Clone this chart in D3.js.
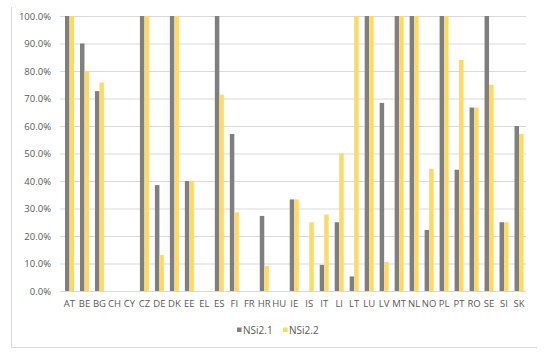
<!DOCTYPE html>
<html>
<head>
<meta charset="utf-8">
<script src="https://cdn.jsdelivr.net/npm/d3@7"></script>
<style>
  body { margin: 0; background: #fff; }
  text { font-family: 'Open Sans', sans-serif; fill: #595959; }
</style>
</head>
<body>
<div id="chartwrap"></div>
<script>
const WIDTH = 550;
const HEIGHT = 355;

const countries = ['AT','BE','BG','CH','CY','CZ','DE','DK','EE','EL','ES','FI','FR','HR','HU','IE','IS','IT','LI','LT','LU','LV','MT','NL','NO','PL','PT','RO','SE','SI','SK'];
const nsi21 = [100, 90, 72.7, 0, 0, 100, 38.5, 100, 40, 0, 100, 57.1, 0, 27.3, 0, 33.3, 0, 9.5, 25, 5.3, 100, 68.4, 100, 100, 22.2, 100, 44.1, 66.7, 100, 25, 60];
const nsi22 = [100, 80, 75.8, 0, 0, 100, 13.1, 100, 40, 0, 71.4, 28.6, 0, 9.1, 0, 33.3, 25, 27.8, 50, 100, 100, 10.5, 100, 100, 44.4, 100, 84, 66.7, 75, 25, 57.1];
const seriesNames = ['NSi2.1', 'NSi2.2'];
const colors = ['#7f7f7f', '#ffd966'];
const yTicks = [0, 10, 20, 30, 40, 50, 60, 70, 80, 90, 100];

const plot = { left: 62, right: 526.5, top: 16, bottom: 291 };

const rows = countries.map((c, i) => ({ c, vals: [nsi21[i], nsi22[i]] }));

const svg = d3.select('#chartwrap')
  .append('svg')
  .attr('width', WIDTH)
  .attr('height', HEIGHT);

// chart area border (left and bottom visible)
svg.append('path')
  .attr('d', 'M11.5,7 V347.5 H537')
  .attr('fill', 'none')
  .attr('stroke', '#d9d9d9');

const x0 = d3.scaleBand()
  .domain(countries)
  .range([plot.left, plot.right])
  .paddingInner(0.4)
  .paddingOuter(0.2);

const x1 = d3.scaleBand()
  .domain([0, 1])
  .range([0, x0.bandwidth()]);

const y = d3.scaleLinear()
  .domain([0, 100])
  .range([plot.bottom, plot.top]);

// gridlines + y labels
const yAxis = d3.axisLeft(y)
  .tickValues(yTicks)
  .tickSize(-(526 - 60))
  .tickPadding(9)
  .tickFormat(d => d.toFixed(1) + '%');

svg.append('g')
  .attr('transform', 'translate(60,0)')
  .call(yAxis)
  .call(g => g.select('.domain').remove())
  .call(g => g.selectAll('line').attr('stroke', '#d9d9d9'))
  .call(g => g.selectAll('text').attr('font-size', '9.5px').style('fill', '#595959'));

// bars
svg.append('g')
  .selectAll('g')
  .data(rows)
  .enter()
  .append('g')
  .attr('transform', d => `translate(${x0(d.c)},0)`)
  .selectAll('rect')
  .data(d => d.vals.map((v, i) => ({ v, i })))
  .enter()
  .append('rect')
  .attr('x', d => x1(d.i))
  .attr('width', x1.bandwidth())
  .attr('y', d => y(d.v))
  .attr('height', d => y(0) - y(d.v))
  .attr('fill', d => colors[d.i]);

// x axis
const xAxis = d3.axisBottom(x0)
  .tickSize(0)
  .tickPadding(9);

svg.append('g')
  .attr('transform', `translate(0,${plot.bottom})`)
  .call(xAxis)
  .call(g => g.select('.domain').attr('d', `M60,0.5H526`).attr('stroke', '#d9d9d9'))
  .call(g => g.selectAll('text').attr('font-size', '9.5px').style('fill', '#595959'));

// legend
const legendX = [237, 283];
const legend = svg.append('g');
seriesNames.forEach((name, i) => {
  legend.append('rect')
    .attr('x', legendX[i])
    .attr('y', 327.5)
    .attr('width', 4.5)
    .attr('height', 4.5)
    .attr('fill', colors[i]);
  legend.append('text')
    .attr('x', legendX[i] + 6)
    .attr('y', 333.5)
    .attr('font-size', '10px')
    .text(name);
});
</script>
</body>
</html>
